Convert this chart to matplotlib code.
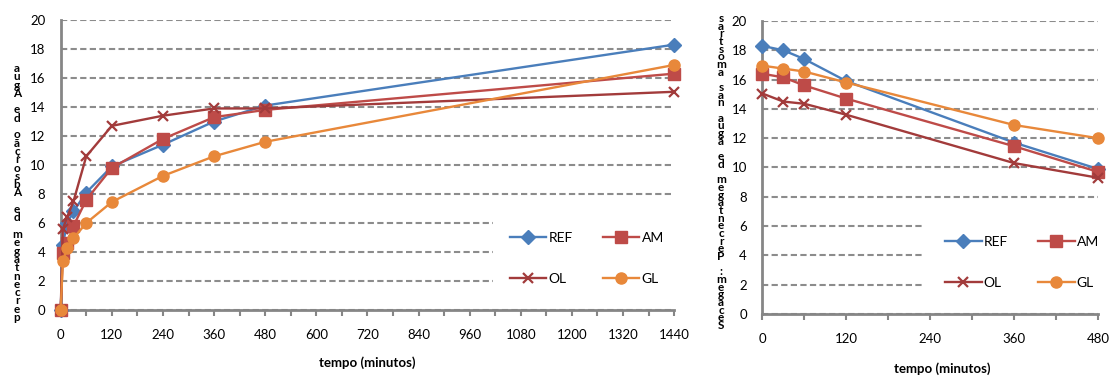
import matplotlib
matplotlib.use('Agg')
import matplotlib.pyplot as plt
from matplotlib.patches import Rectangle
from matplotlib.ticker import MultipleLocator

plt.rcParams['font.family'] = ['Lato', 'DejaVu Sans']

# absorção (0 a 1440 min)
t_abs = [0, 5, 15, 30, 60, 120, 240, 360, 480, 1440]
ref_abs = [0, 4.5, 6.0, 6.8, 8.1, 9.9, 11.4, 13.0, 14.1, 18.3]
am_abs = [0, 3.9, 4.6, 5.8, 7.6, 9.8, 11.8, 13.3, 13.8, 16.3]
ol_abs = [0, 5.6, 6.4, 7.5, 10.6, 12.7, 13.4, 13.9, 13.9, 15.05]
gl_abs = [0, 3.35, 4.25, 4.95, 6.0, 7.45, 9.25, 10.6, 11.6, 16.9]

# secagem (0 a 480 min)
t_sec = [0, 30, 60, 120, 360, 480]
ref_sec = [18.3, 18.0, 17.4, 15.9, 11.7, 9.9]
am_sec = [16.4, 16.15, 15.6, 14.7, 11.45, 9.7]
ol_sec = [15.05, 14.5, 14.35, 13.6, 10.3, 9.3]
gl_sec = [16.95, 16.75, 16.55, 15.8, 12.9, 12.0]

labels = ['REF', 'AM', 'OL', 'GL']
cores = ['#4A7EBB', '#BE4B48', '#A23B3B', '#E8883A']
marcadores = [('D', 7, 1), ('s', 8, 1), ('x', 7, 1.6), ('o', 8, 1)]

ylabel_abs = 'percentagem de Absorção de Água'
ylabel_sec = 'Secagem: Percentagem de água nas amostras'

GRIS = '#868686'


def estilo(ax, xmax, xstep, legend_anchor, fundo_x0, fundo_y1):
    ax.set_xlim(0, xmax)
    ax.set_ylim(0, 20)
    ax.xaxis.set_major_locator(MultipleLocator(xstep))
    ax.xaxis.set_minor_locator(MultipleLocator(60))
    ax.yaxis.set_major_locator(MultipleLocator(2))
    ax.grid(axis='y', color='#8c8c8c', lw=1.5, ls=(0, (3, 1.6)), zorder=0)
    ax.set_axisbelow(True)
    for s in ['top', 'right']:
        ax.spines[s].set_visible(False)
    for s in ['left', 'bottom']:
        ax.spines[s].set_color(GRIS)
        ax.spines[s].set_linewidth(2)
    ax.tick_params(axis='x', which='both', direction='out', length=4,
                   width=1.5, color=GRIS, labelsize=9.5, pad=10)
    ax.tick_params(axis='y', length=0, labelsize=9.5, pad=11)
    ax.set_xlabel('tempo (minutos)', fontsize=9.5, fontweight='bold',
                  labelpad=11)
    # fundo branco da legenda (tapa as linhas de grelha)
    ax.add_patch(Rectangle((fundo_x0, 0.01), 1.05 - fundo_x0, fundo_y1 - 0.01,
                           transform=ax.transAxes, facecolor='white',
                           edgecolor='none', zorder=1, clip_on=False))
    h, l = ax.get_legend_handles_labels()
    ordem = [0, 2, 1, 3]  # REF, AM em cima; OL, GL em baixo
    leg = ax.legend([h[i] for i in ordem], [l[i] for i in ordem],
                    loc='center', bbox_to_anchor=legend_anchor, ncol=2,
                    fontsize=10, frameon=False, handlelength=2.6,
                    handletextpad=0.15, columnspacing=2.2,
                    labelspacing=2.1, borderpad=0)
    leg.set_zorder(2)


def desenha(ax, t, series):
    for y, lab, c, (m, ms, mew) in zip(series, labels, cores, marcadores):
        ax.plot(t, y, color=c, lw=1.7, marker=m, ms=ms, mew=mew,
                mec=c, mfc=c, label=lab, clip_on=False, zorder=3)


fig = plt.figure(figsize=(11.1, 3.76), dpi=100)
ax1 = fig.add_axes([0.0547, 0.1755, 0.5526, 0.7713])
ax2 = fig.add_axes([0.6868, 0.1649, 0.3024, 0.7793])

desenha(ax1, t_abs, [ref_abs, am_abs, ol_abs, gl_abs])
desenha(ax2, t_sec, [ref_sec, am_sec, ol_sec, gl_sec])

estilo(ax1, 1440, 120, (0.858, 0.177), 0.705, 0.375)
estilo(ax2, 480, 120, (0.774, 0.176), 0.476, 0.37)
ax2.xaxis.set_label_coords(0.535, -0.165)

# rótulos do eixo y empilhados, como no original
fig.text(17 / 1110, 1 - 193 / 376, '\n'.join(reversed(ylabel_abs)),
         ha='center', va='center', fontsize=8.5, fontweight='bold',
         linespacing=0.70)
fig.text(721 / 1110, 1 - 172 / 376, '\n'.join(reversed(ylabel_sec)),
         ha='center', va='center', fontsize=8.5, fontweight='bold',
         linespacing=0.63)

fig.savefig('out.png', dpi=100)
